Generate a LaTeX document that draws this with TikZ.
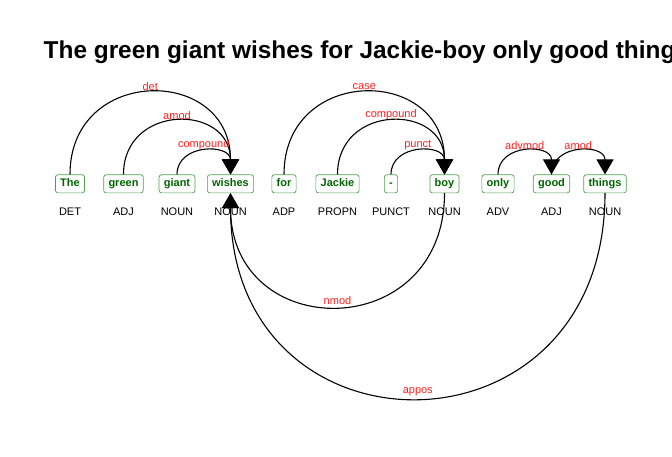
\documentclass[tikz,border=0pt]{standalone}
\usepackage{fontspec}
\setmainfont{Liberation Sans}
\usetikzlibrary{arrows.meta,calc}
\definecolor{wordgreen}{HTML}{006400}
\definecolor{boxgreen}{HTML}{4E9E4E}
\definecolor{labred}{HTML}{FF2020}
\tikzset{
  word/.style={draw=boxgreen, line width=0.7pt, rounded corners=2.5pt, text=wordgreen,
    font=\fontsize{11}{11}\selectfont\bfseries, inner xsep=4.8pt, inner ysep=0.3pt,
    text height=11.5pt, text depth=6pt},
  postag/.style={font=\fontsize{11}{11}\selectfont, anchor=base, inner sep=0pt},
  dep/.style={line width=1.1pt, -{Triangle[length=15pt,width=17pt]}},
  lab/.style={text=labred, font=\fontsize{11}{11}\selectfont, inner sep=0pt, yshift=6pt},
  ttl/.style={font=\fontsize{24.4}{24.4}\selectfont\bfseries, anchor=base west, inner sep=0pt}
}
\newcommand\uparc[4]{\draw[dep] (#1.north) .. controls ($(#1.north)+(0,-#3)$) and ($(#2.north)+(0,-#3)$) .. node[lab,pos=0.5]{#4} (#2.north);}
\newcommand\downarc[4]{\draw[dep] (#1.south) .. controls ($(#1.south)+(0,#3)$) and ($(#2.south)+(0,#3)$) .. node[lab,pos=0.5]{#4} (#2.south);}
\begin{document}
\begin{tikzpicture}[x=1pt,y=-1pt]
\useasboundingbox (0,0) rectangle (672,456);
\node[ttl] (title) at (43.5,58) {The green giant wishes for Jackie-boy only good things};
\foreach \w/\t/\p [count=\i from 0] in {w0/The/DET, w1/green/ADJ, w2/giant/NOUN, w3/wishes/NOUN, w4/for/ADP, w5/Jackie/PROPN, w6/-/PUNCT, w7/boy/NOUN, w8/only/ADV, w9/good/ADJ, w10/things/NOUN}{
  \node[word] (\w) at ({70+53.5*\i},183.8) {\t};
  \node[postag] (p\w) at ({70+53.5*\i},215.7) {\p};
}
\uparc{w0}{w3}{109}{det}
\uparc{w1}{w3}{71}{amod}
\uparc{w2}{w3}{31}{compound}
\uparc{w4}{w7}{109}{case}
\uparc{w5}{w7}{71}{compound}
\uparc{w6}{w7}{31}{punct}
\uparc{w8}{w9}{31}{advmod}
\uparc{w9}{w10}{31}{amod}
\downarc{w7}{w3}{151}{nmod}
\downarc{w10}{w3}{273}{appos}
\end{tikzpicture}
\end{document}
